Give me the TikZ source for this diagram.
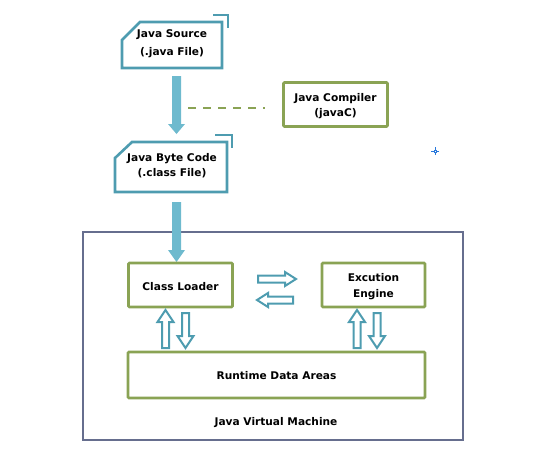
\documentclass[tikz,border=0pt]{standalone}
\usepackage{fontspec}
\setmainfont{DejaVu Sans}
\definecolor{teal2}{RGB}{78,156,176}
\definecolor{tfill}{RGB}{110,186,206}
\definecolor{grn}{RGB}{138,163,84}
\definecolor{jvmc}{RGB}{102,110,142}
\definecolor{crossc}{RGB}{40,120,220}
\begin{document}
\begin{tikzpicture}[x=1pt,y=-1pt,
 lbl/.style={font=\bfseries\fontsize{10.6}{16}\selectfont, align=center, text=black},
 gbox/.style={draw=grn, line width=2.6pt, rounded corners=1pt, fill=white},
 tbox/.style={draw=teal2, line width=2.6pt, line join=miter},
 fillarrow/.style={fill=tfill, draw=none},
 outarrow/.style={draw=teal2, fill=white, line width=2pt, line join=miter},
]
\useasboundingbox (0,0) rectangle (543,475);
% Java Source
\draw[tbox] (122,40) -- (140,22) -- (222,22) -- (222,68) -- (122,68) -- cycle;
\draw[tbox] (213,15) -- (228,15) -- (228,28);
\node[lbl, font=\bfseries\fontsize{10.6}{18}\selectfont] (src) at (172,44) {Java Source\\(.java File)};
% Java Byte Code
\draw[tbox] (115,158) -- (132,142) -- (227,142) -- (227,192) -- (115,192) -- cycle;
\draw[tbox] (215,135) -- (232,135) -- (232,148);
\node[lbl, font=\bfseries\fontsize{10.6}{15.5}\selectfont] (bc) at (172,165.5) {Java Byte Code\\(.class File)};
% Compiler
\node[gbox, minimum width=104pt, minimum height=44pt] (comp) at (335.5,104.5) {};
\node[lbl, font=\bfseries\fontsize{10.6}{15.5}\selectfont] at (335.5,106) {Java Compiler\\(javaC)};
\coordinate (dashA) at (188,108);
\coordinate (dashB) at (265,108);
\draw[grn, line width=2.4pt, dash pattern=on 8pt off 7pt] (dashA) -- (dashB);
% down arrows
\fill[tfill] (172,76) -- (181,76) -- (181,124) -- (185,124) -- (176.5,134) -- (168,124) -- (172,124) -- cycle;
% JVM
\node[draw=jvmc, line width=2.8pt, minimum width=380pt, minimum height=208pt] (jvm) at (273,336) {};
\node[lbl] (jvmt) at (276,423) {Java Virtual Machine};
\fill[tfill] (172,202) -- (181,202) -- (181,250) -- (185,250) -- (176.5,262) -- (168,250) -- (172,250) -- cycle;
% inner boxes
\node[gbox, minimum width=104pt, minimum height=44pt] (cl) at (180.5,285) {};
\node[lbl] at (180.5,287) {Class Loader};
\node[gbox, minimum width=103pt, minimum height=44pt] (ee) at (373.5,285) {};
\node[lbl] at (373.5,287) {Excution\\Engine};
\node[gbox, minimum width=297pt, minimum height=46pt] (rda) at (276.5,375) {};
\node[lbl] at (276.5,376) {Runtime Data Areas};
% horizontal outlined arrows
\draw[outarrow] (258,275.5) -- (285,275.5) -- (285,272) -- (296,279) -- (285,286) -- (285,282.5) -- (258,282.5) -- cycle;
\draw[outarrow] (293,296.5) -- (268,296.5) -- (268,293) -- (257,300) -- (268,307) -- (268,303.5) -- (293,303.5) -- cycle;
% vertical outlined arrows
\foreach \cx in {165.5,357} {
  \draw[outarrow] (\cx-3.5,348) -- (\cx-3.5,322) -- (\cx-8,322) -- (\cx,310) -- (\cx+8,322) -- (\cx+3.5,322) -- (\cx+3.5,348) -- cycle;
}
\foreach \cx in {185.5,377} {
  \draw[outarrow] (\cx-3.5,313) -- (\cx-3.5,336) -- (\cx-8,336) -- (\cx,348) -- (\cx+8,336) -- (\cx+3.5,336) -- (\cx+3.5,313) -- cycle;
}
% small cross
\draw[crossc, line width=0.8pt] (431,151) -- (439,151) (435,147) -- (435,155);
\draw[crossc, fill=white, line width=0.6pt] (433.8,149.8) rectangle (436.2,152.2);
\end{tikzpicture}
\end{document}
